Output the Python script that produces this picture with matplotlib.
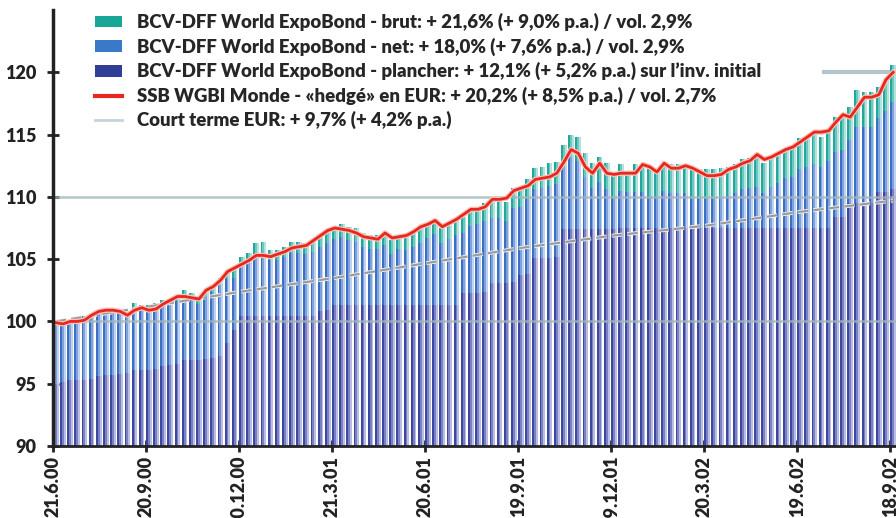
import numpy as np
import matplotlib.pyplot as plt
import matplotlib.patheffects as pe
from matplotlib.patches import Patch
from matplotlib.lines import Line2D

# weekly values from 21.6.2000 to 18.9.2002 (index base 100)
brut = [100.1, 100.2, 100.1, 100.3, 100.4, 100.5, 100.9, 101.0, 101.0, 100.9,
        100.8, 101.5, 101.3, 101.3, 101.5, 101.7, 101.8, 102.0, 102.5, 102.3,
        101.9, 102.5, 102.9, 103.5, 104.0, 104.1, 105.2, 105.5, 106.3, 106.4,
        105.7, 105.7, 106.0, 106.4, 106.4, 106.3, 106.5, 106.9, 107.2, 107.5,
        107.8, 107.6, 107.5, 107.1, 106.9, 106.9, 107.2, 106.5, 106.9, 106.8,
        107.2, 107.5, 107.9, 108.2, 107.5, 107.9, 108.2, 108.4, 109.0, 109.1,
        109.5, 109.8, 109.8, 109.6, 110.7, 110.8, 111.4, 112.3, 112.4, 112.7,
        112.8, 114.2, 115.0, 114.8, 113.5, 112.7, 113.2, 112.7, 112.0, 112.6,
        111.8, 112.6, 112.6, 112.3, 112.0, 112.7, 112.6, 112.6, 112.6, 112.2,
        112.2, 112.2, 112.2, 112.3, 112.4, 112.6, 113.0, 113.1, 113.2, 112.7,
        113.1, 113.5, 113.9, 114.0, 114.7, 114.8, 115.1, 114.8, 115.4, 116.4,
        116.6, 117.2, 118.6, 118.4, 118.4, 118.8, 119.4, 120.6]

net = [100.0, 100.1, 100.0, 100.2, 100.3, 100.4, 100.8, 100.9, 100.9, 100.7,
       100.5, 101.1, 100.9, 100.9, 101.1, 101.3, 101.4, 101.6, 102.0, 101.8,
       101.4, 102.0, 102.4, 102.9, 103.4, 103.5, 104.5, 104.8, 105.5, 105.6,
       104.9, 104.9, 105.2, 105.5, 105.5, 105.4, 105.6, 106.0, 106.3, 106.6,
       106.8, 106.5, 106.4, 106.0, 105.8, 105.8, 106.1, 105.4, 105.8, 105.7,
       106.0, 106.3, 106.7, 107.0, 106.3, 106.6, 106.9, 107.1, 107.7, 107.8,
       108.1, 108.3, 108.3, 108.1, 109.1, 109.2, 109.8, 110.6, 110.7, 110.9,
       111.0, 112.4, 113.2, 112.9, 111.6, 110.7, 111.2, 110.6, 110.0, 110.5,
       110.4, 110.4, 110.4, 110.1, 110.0, 110.5, 110.3, 110.3, 110.3, 109.8,
       109.8, 109.8, 109.8, 110.0, 110.1, 110.3, 110.6, 110.7, 110.8, 110.3,
       110.8, 111.1, 111.5, 111.6, 112.2, 112.4, 112.6, 112.4, 112.9, 113.6,
       113.8, 114.6, 115.6, 115.6, 115.6, 116.3, 116.9, 117.6]

plancher = [95.0, 95.1, 95.3, 95.3, 95.3, 95.4, 95.6, 95.7, 95.7, 95.8,
            95.9, 96.1, 96.1, 96.1, 96.2, 96.4, 96.5, 96.6, 96.9, 96.9,
            96.9, 97.0, 97.1, 97.2, 98.3, 99.3, 100.4, 100.4, 100.4, 100.4,
            100.4, 100.4, 100.4, 100.4, 100.4, 100.4, 100.4, 100.8, 100.9, 101.3,
            101.3, 101.3, 101.3, 101.3, 101.3, 101.3, 101.3, 101.3, 101.3, 101.3,
            101.3, 101.3, 101.3, 101.3, 101.3, 101.3, 101.3, 102.3, 102.3, 102.3,
            102.4, 103.1, 103.1, 103.1, 103.2, 103.7, 103.8, 105.1, 105.1, 105.1,
            105.2, 107.4, 107.4, 107.4, 107.4, 107.4, 107.4, 107.4, 107.4, 107.5,
            107.5, 107.5, 107.5, 107.5, 107.5, 107.5, 107.5, 107.5, 107.5, 107.5,
            107.5, 107.5, 107.5, 107.5, 107.5, 107.5, 107.5, 107.5, 107.5, 107.5,
            107.5, 107.5, 107.5, 107.5, 107.5, 107.5, 107.5, 107.5, 107.5, 108.4,
            108.4, 109.5, 109.5, 109.5, 109.5, 110.4, 110.4, 110.6]

ssb = [99.9, 99.8, 100.0, 100.0, 100.1, 100.5, 100.8, 100.9, 100.9, 100.8,
       100.5, 100.9, 101.1, 100.9, 101.0, 101.4, 101.7, 102.0, 102.0, 101.9,
       101.8, 102.5, 102.8, 103.3, 104.0, 104.3, 104.6, 104.9, 105.3, 105.3,
       105.2, 105.4, 105.6, 105.9, 106.0, 106.1, 106.5, 106.9, 107.3, 107.5,
       107.4, 107.3, 107.1, 106.8, 106.7, 106.6, 107.1, 106.7, 106.8, 106.9,
       107.2, 107.6, 107.8, 108.1, 107.6, 107.9, 108.2, 108.6, 109.0, 109.0,
       109.2, 109.8, 109.8, 109.9, 110.5, 110.7, 110.9, 111.4, 111.5, 111.6,
       111.9, 112.8, 113.8, 113.5, 112.4, 111.9, 112.7, 111.9, 111.8, 111.9,
       111.9, 111.9, 112.6, 112.4, 112.0, 112.7, 112.3, 112.3, 112.5, 112.3,
       112.0, 111.7, 111.7, 111.8, 112.2, 112.4, 112.7, 112.9, 113.4, 113.0,
       113.2, 113.5, 113.8, 114.0, 114.4, 114.8, 115.2, 115.2, 115.3, 116.0,
       116.6, 116.4, 117.2, 118.0, 118.0, 118.2, 119.4, 120.0]

ct_weeks = [0, 13, 26, 39, 52, 65, 78, 91, 104, 117]
court_terme = [100.0, 101.2, 102.4, 103.5, 104.7, 105.9, 106.9, 107.7, 108.8, 109.7]

tick_weeks = [0, 13, 26, 39, 52, 65, 78, 91, 104, 117]
tick_labels = ["21.6.00", "20.9.00", "20.12.00", "21.3.01", "20.6.01",
               "19.9.01", "19.12.01", "20.3.02", "19.6.02", "18.9.02"]

labels = [
    "BCV-DFF World ExpoBond - brut: + 21,6% (+ 9,0% p.a.) / vol. 2,9%",
    "BCV-DFF World ExpoBond - net: + 18,0% (+ 7,6% p.a.) / vol. 2,9%",
    "BCV-DFF World ExpoBond - plancher: + 12,1% (+ 5,2% p.a.) sur l\u2019inv. initial",
    "SSB WGBI Monde - \u00abhedg\u00e9\u00bb en EUR: + 20,2% (+ 8,5% p.a.) / vol. 2,7%",
    "Court terme EUR: + 9,7% (+ 4,2% p.a.)",
]

BASE = 90
# dark / mid / light stripe of each bar
brut_cols = ("#1fa89b", "#6cc8be", "#b4e3dd")
net_cols = ("#3a70c4", "#7fa1dc", "#c1d1f0")
plancher_cols = ("#3a48a2", "#7b80c2", "#babde1")
stripes = [(0.0, 0.26), (0.26, 0.26), (0.52, 0.26)]

plt.rcParams["font.family"] = ["Lato", "DejaVu Sans"]
plt.rcParams["font.weight"] = "heavy"

fig = plt.figure(figsize=(8.96, 5.18), dpi=100)
ax = fig.add_axes([53 / 896, 72 / 518, 843 / 896, 436 / 518])

x = np.arange(len(brut))
for z, (vals, cols) in enumerate([(brut, brut_cols), (net, net_cols), (plancher, plancher_cols)]):
    h = np.array(vals) - BASE
    for (off, w), c in zip(stripes, cols):
        ax.bar(x + off, h, width=w, bottom=BASE, align="edge", color=c,
               linewidth=0, zorder=2 + z * 0.1)

for v in (100, 110):
    ax.axhline(v, color="#a3b6bb", lw=1.8, alpha=0.8, zorder=3)

ax.plot(np.array(ct_weeks) + 0.4, court_terme, color="#9a9a9a", lw=1.5,
        ls=(0, (5, 2.5)), zorder=4,
        path_effects=[pe.Stroke(linewidth=2.8, foreground="#eeeeee"), pe.Normal()])
ax.plot(x + 0.4, ssb, color="#e8281e", lw=2, zorder=5,
        path_effects=[pe.Stroke(linewidth=3.8, foreground="#f8c3bb"), pe.Normal()])

ax.set_xlim(0, 117.8)
ax.set_ylim(90, 125)
ax.set_yticks([90, 95, 100, 105, 110, 115, 120])
ax.set_yticklabels(["90", "95", "100", "105", "110", "115", "120"])
ax.set_xticks(tick_weeks)
ax.set_xticklabels(tick_labels, rotation=90, va="top", ha="center")

for s in ("top", "right"):
    ax.spines[s].set_visible(False)
ax.spines["left"].set_linewidth(2.5)
ax.spines["left"].set_color("#222222")
ax.spines["bottom"].set_linewidth(2)
ax.spines["bottom"].set_color("#222222")
ax.spines["left"].set_zorder(6)
ax.spines["bottom"].set_zorder(6)
ax.tick_params(axis="both", direction="inout", length=8, width=2,
               color="#222222", labelsize=13, labelcolor="#222222")
ax.tick_params(axis="y", pad=8)
ax.tick_params(axis="x", pad=3)

handles = [
    Patch(facecolor="#1aa599"),
    Patch(facecolor="#3a78c8"),
    Patch(facecolor="#2f3f98"),
    Line2D([], [], color="#e8281e", lw=3),
    Line2D([], [], color="#c5d5d9", lw=2),
]
leg = ax.legend(handles, labels, loc="upper left", bbox_to_anchor=(0.0498, 0.993),
                frameon=False, borderpad=0, borderaxespad=0, fontsize=13.4,
                handlelength=1.45, handleheight=0.6, handletextpad=0.8,
                labelspacing=0.34, labelcolor="#262626")

# the 120 line only shows to the right of the legend
fig.canvas.draw()
bb = leg.get_window_extent()
xr = ax.transAxes.inverted().transform((bb.x1, bb.y0))[0]
ax.axhline(120, xmin=xr + 0.075, xmax=1, color="#b3c6cb", lw=3, zorder=1.5)

fig.savefig("out.png", dpi=100)
